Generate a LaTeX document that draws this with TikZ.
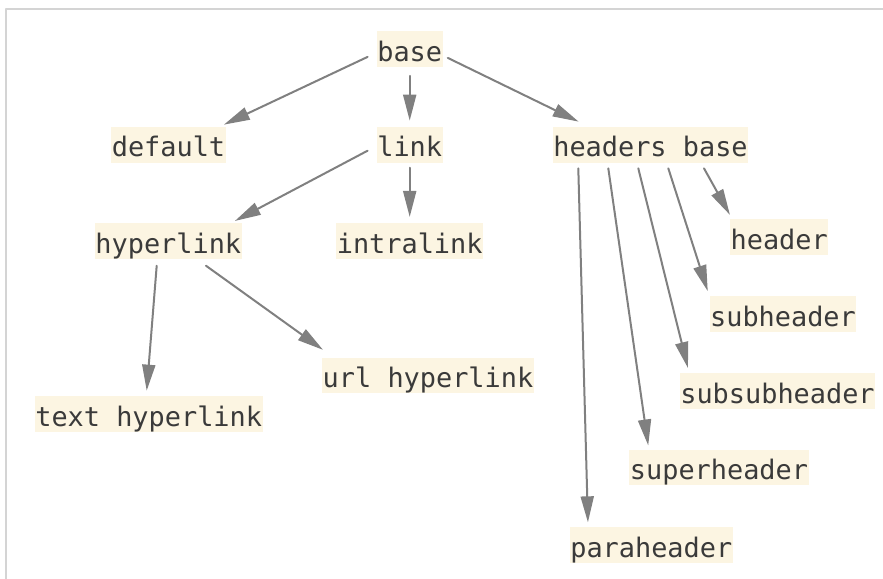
\documentclass[tikz,border=0pt]{standalone}
\usepackage{fontspec}
\setmonofont{DejaVu Sans Mono}
\usetikzlibrary{calc,arrows.meta}
\definecolor{boxfill}{HTML}{FCF5E2}
\definecolor{ink}{HTML}{3A3A3A}
\definecolor{edgegray}{HTML}{808080}
\definecolor{framegray}{HTML}{D4D4D4}
\tikzset{
  lbl/.style={fill=boxfill, text=ink, inner xsep=0.5bp, inner ysep=0pt,
    text height=30bp, text depth=5.7bp,
    font=\ttfamily\fontsize{27}{27}\selectfont},
  edge/.style={draw=edgegray, line width=2bp,
    -{Triangle[length=26bp,width=13bp]}}
}
\begin{document}
\begin{tikzpicture}[line cap=round, line join=round, x=1bp, y=-1bp]
  \useasboundingbox (0,0) rectangle (883,579);
  % frame
  \draw[framegray, line width=2bp, line cap=butt] (6,579) -- (6,9) -- (883,9);
  % nodes
  \foreach \nm/\px/\py/\txt in {base/409.7/48.9/base, default/168.5/144.7/default,
      link/409.7/144.7/link, hb/650.5/144.7/headers base,
      hyperlink/168.3/241/hyperlink, intralink/409.7/241/intralink,
      header/779.2/237.2/header, subheader/783/314.2/subheader,
      url/428/375.5/url hyperlink, subsub/777.5/391/subsubheader,
      text/148.7/414/text hyperlink, super/719/467.5/superheader,
      para/651.3/545/paraheader}
    \node[lbl] (\nm) at (\px,\py) {\txt};
  % edges
  \draw[edge] ($(base.west)+(-9,8)$) -- ($(default.north east)+(-2,-2)$);
  \draw[edge] ($(base.south)+(0,9)$) -- ($(link.north)+(0,-6)$);
  \draw[edge] ($(base.east)+(5,9)$) -- ($(hb.north west)+(26,-5)$);
  \draw[edge] ($(link.west)+(-9,6)$) -- ($(hyperlink.north east)+(-7,-2)$);
  \draw[edge] ($(link.south)+(0,5)$) -- ($(intralink.north)+(0,-6)$);
  \draw[edge] ($(hyperlink.south)+(-11.6,6.7)$) -- ($(text.north)+(-2,-5.3)$);
  \draw[edge] ($(hyperlink.south)+(37.7,6.7)$) -- ($(url.north west)+(1,-7.6)$);
  \draw[edge] ($(hb.south)+(53.5,5.6)$) -- ($(header.north west)+(0,-4.3)$);
  \draw[edge] ($(hb.south)+(17.8,5.6)$) -- ($(subheader.north west)+(-1.7,-5)$);
  \draw[edge] ($(hb.south)+(-12.2,5.6)$) -- ($(subsub.north west)+(8.3,-5)$);
  \draw[edge] ($(hb.south)+(-42.2,5.6)$) -- ($(super.north west)+(19,-4)$);
  \draw[edge] ($(hb.south)+(-72.2,5.6)$) -- ($(para.north west)+(18.3,-4.6)$);
\end{tikzpicture}
\end{document}
